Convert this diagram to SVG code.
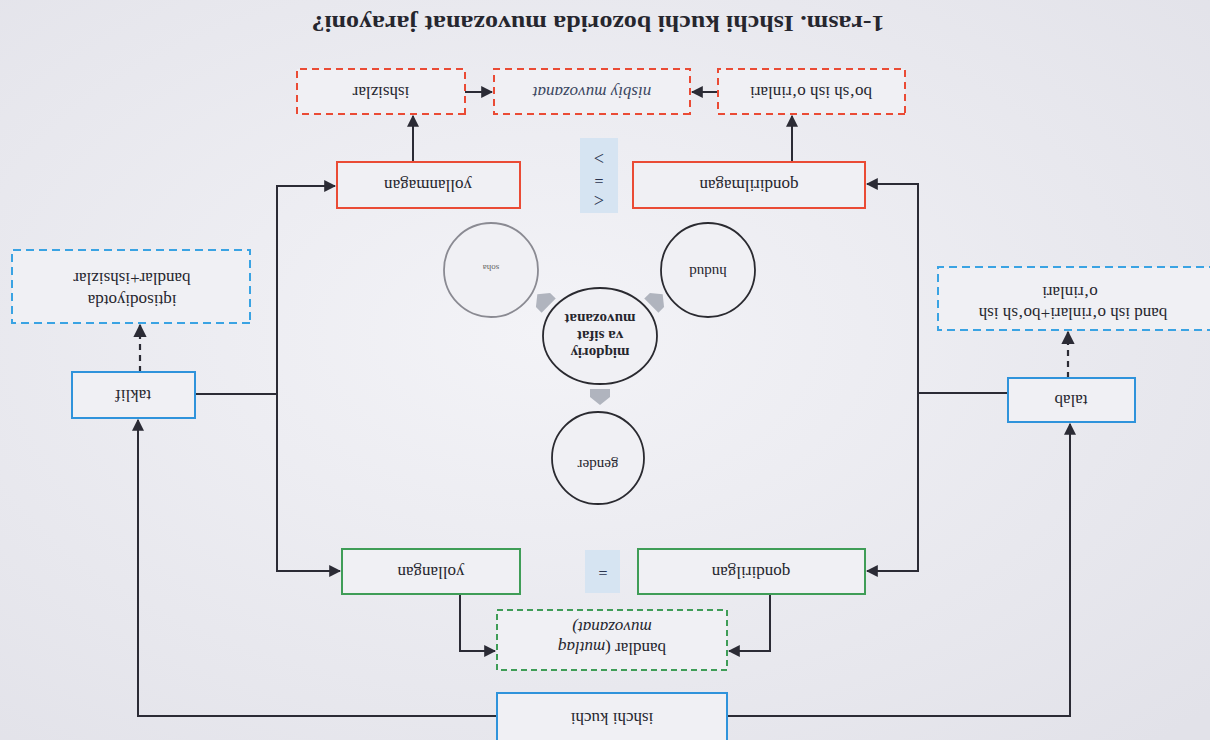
<svg xmlns="http://www.w3.org/2000/svg" width="1210" height="740" viewBox="0 0 1210 740">
<style>
text{font-family:"Liberation Serif","DejaVu Serif",serif;fill:#26262e;font-size:17px;text-anchor:middle;dominant-baseline:central}
.box{fill:#f0f0f4;stroke-width:2}
.rs{stroke:#ea4b35}
.rd{stroke:#ea4b35;stroke-dasharray:7 5}
.gs{stroke:#3f9d57}
.gd{stroke:#3f9d57;stroke-dasharray:6 4}
.bs{stroke:#2f93db}
.bd{stroke:#3aa3e3;stroke-dasharray:8 5}
.sym{fill:#d6e4f2;stroke:none}
.circ{fill:#f0f0f4;stroke:#2a2a30;stroke-width:1.8}
.con{fill:none;stroke:#2b2b35;stroke-width:2}
.dash{fill:none;stroke:#2b2b35;stroke-width:2.2;stroke-dasharray:6 5}
.bar{fill:#b0b4be}
</style>
<defs>
<radialGradient id="bg" cx="0.45" cy="0.45" r="0.75">
<stop offset="0" stop-color="#f3f3f7"/>
<stop offset="1" stop-color="#e2e2e9"/>
</radialGradient>
<marker id="ah" viewBox="0 0 10 10" refX="9" refY="5" markerWidth="6" markerHeight="6" orient="auto" markerUnits="strokeWidth">
<path d="M0,0 L10,5 L0,10 Z" fill="#2b2b35"/>
</marker>
<path id="blk" d="M-10,8 L10,8 L10,0 L0,-8 L-10,0 Z"/>
</defs>
<rect width="1210" height="740" fill="url(#bg)"/>
<g transform="rotate(180 605 370)">
<text id="title" x="612" y="716" textLength="573" lengthAdjust="spacingAndGlyphs" style="font-weight:bold;font-size:24px">1-rasm. Ishchi kuchi bozorida muvozanat jarayoni?</text>

<g id="connectors">
<line class="con" x1="745" y1="648" x2="718" y2="648" marker-end="url(#ah)"/>
<line class="con" x1="492" y1="648" x2="518" y2="648" marker-end="url(#ah)"/>
<line class="con" x1="797" y1="578" x2="797" y2="624" marker-end="url(#ah)"/>
<line class="con" x1="418" y1="578" x2="418" y2="624" marker-end="url(#ah)"/>
<polyline class="con" points="750,191 750,89 715,89" marker-end="url(#ah)"/>
<polyline class="con" points="440,191 440,89 481,89" marker-end="url(#ah)"/>
<polyline class="con" points="713,24 1072,24 1072,320" marker-end="url(#ah)"/>
<polyline class="con" points="483,24 140,24 140,316" marker-end="url(#ah)"/>
<line class="con" x1="1015" y1="346" x2="933" y2="346"/>
<polyline class="con" points="933,362 933,554 875,554" marker-end="url(#ah)"/>
<polyline class="con" points="933,362 933,169 870,169" marker-end="url(#ah)"/>
<line class="con" x1="202" y1="347" x2="292" y2="347"/>
<polyline class="con" points="292,362 292,556 343,556" marker-end="url(#ah)"/>
<polyline class="con" points="292,362 292,169 343,169" marker-end="url(#ah)"/>
<line class="dash" x1="1070" y1="368" x2="1070" y2="415" marker-end="url(#ah)"/>
<line class="dash" x1="142" y1="362" x2="142" y2="408" marker-end="url(#ah)"/>
</g>

<g id="ishsizlar"><rect class="box rd" x="745" y="626" width="168" height="45"/><text x="829" y="648">ishsizlar</text></g>
<g id="nisbiy"><rect class="box rd" x="520" y="626" width="196" height="45"/><text x="618" y="648" style="font-style:italic;fill:#3a4660">nisbiy muvozanat</text></g>
<g id="boshish"><rect class="box rd" x="305" y="626" width="187" height="45"/><text x="399" y="648">bo‘sh ish o‘rinlari</text></g>

<g id="yollanmagan"><rect class="box rs" x="690" y="532" width="183" height="46"/><text x="782" y="555">yollanmagan</text></g>
<g id="qondirilmagan"><rect class="box rs" x="345" y="532" width="232" height="46"/><text x="461" y="555">qondirilmagan</text></g>
<g id="compare"><rect class="sym" x="592" y="527" width="38" height="75"/>
<text x="611" y="540" style="font-size:18px;fill:#2b3550">&lt;</text>
<text x="611" y="560" style="font-size:16px;fill:#2b3550">=</text>
<text x="611" y="582" style="font-size:18px;fill:#2b3550">&gt;</text></g>

<g id="center"><ellipse class="circ" cx="610" cy="404" rx="57" ry="48"/>
<text x="610" y="387" style="font-weight:bold;font-size:15px">miqdoriy</text>
<text x="610" y="404" style="font-weight:bold;font-size:15px">va sifat</text>
<text x="610" y="421" style="font-weight:bold;font-size:15px">muvozanat</text></g>
<g id="soha"><circle class="circ" cx="719" cy="470" r="47" style="stroke:#8a8a92"/><text x="719" y="472" style="font-size:9px;fill:#666">soha</text></g>
<g id="hudud"><circle class="circ" cx="502" cy="470" r="47"/><text x="502" y="468" style="font-size:15px">hudud</text></g>
<g id="gender"><circle class="circ" cx="612" cy="282" r="46"/><text x="612" y="275" style="font-size:15px">gender</text></g>
<g id="blockarrows">
<use href="#blk" class="bar" transform="translate(610 343)"/>
<use href="#blk" class="bar" transform="translate(667 440) rotate(135)"/>
<use href="#blk" class="bar" transform="translate(553 440) rotate(-135)"/>
</g>

<g id="yollangan"><rect class="box gs" x="690" y="146" width="178" height="45"/><text x="779" y="168">yollangan</text></g>
<g id="qondirilgan"><rect class="box gs" x="345" y="146" width="227" height="45"/><text x="459" y="168">qondirilgan</text></g>
<g id="equal"><rect class="sym" x="590" y="147" width="35" height="43"/><text x="607" y="168" style="font-size:16px;fill:#2b3550">=</text></g>
<g id="bandlar"><rect class="box gd" x="483" y="70" width="230" height="60"/>
<text x="598" y="92">bandlar (<tspan style="font-style:italic">mutlaq</tspan></text>
<text x="598" y="113" style="font-style:italic">muvozanat)</text></g>

<g id="ishchikuchi"><rect class="box bs" x="483" y="-5" width="230" height="52"/><text x="598" y="22">ishchi kuchi</text></g>
<g id="taklif"><rect class="box bs" x="1015" y="322" width="123" height="46"/><text x="1077" y="345">taklif</text></g>
<g id="talab"><rect class="box bs" x="75" y="318" width="127" height="44"/><text x="139" y="340">talab</text></g>
<g id="iqtisod"><rect class="box bd" x="960" y="417" width="238" height="73"/>
<text x="1078" y="440">iqtisodiyotda</text><text x="1078" y="462">bandlar+ishsizlar</text></g>
<g id="bandish"><rect class="box bd" x="-5" y="410" width="277" height="63"/>
<text x="137" y="427">band ish o‘rinlari+bo‘sh ish</text><text x="140" y="448">o‘rinlari</text></g>
</g>
</svg>
